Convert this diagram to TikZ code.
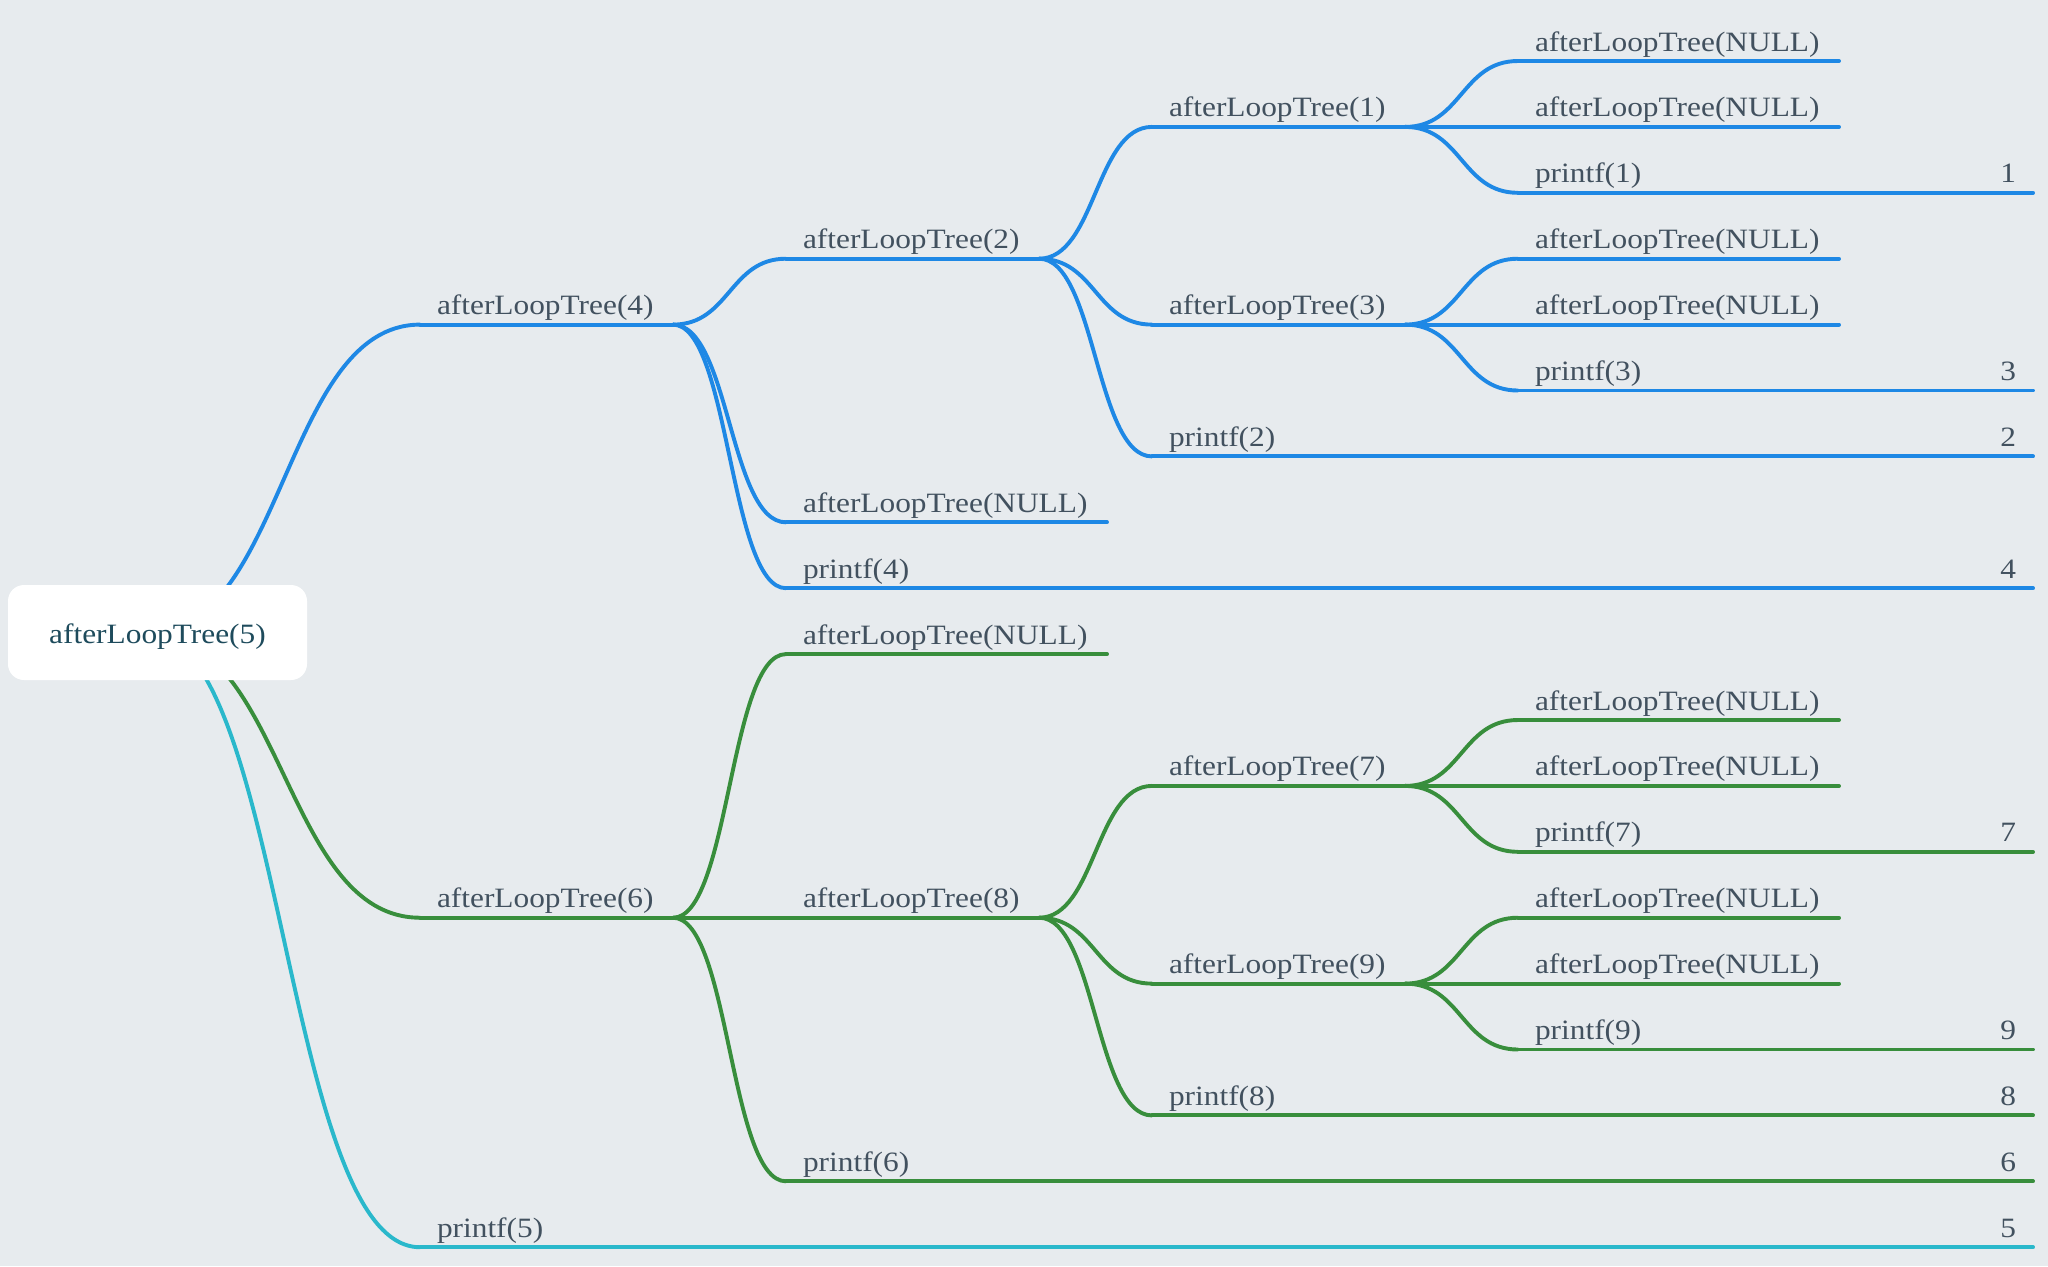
\documentclass[tikz,border=0pt]{standalone}
\usepackage{fontspec}
\setmainfont{Liberation Serif}[FakeStretch=1.12]

\definecolor{bgc}{HTML}{E7EBEE}
\definecolor{bluebr}{HTML}{1E88E5}
\definecolor{greenbr}{HTML}{388E3C}
\definecolor{cyanbr}{HTML}{2AB8CB}
\definecolor{labelc}{HTML}{42515F}
\definecolor{rootc}{HTML}{1E4B5C}

% pushes the printed value to the right end of a printf line
\newcommand\pushright{\hskip 0pt plus 1filll\relax}

\tikzset{
  x=0.5pt, y=-0.5pt,
  lblfont/.style={font=\fontsize{14pt}{16pt}\selectfont},
  topic/.style={anchor=south west, inner xsep=8.5pt, inner ysep=5pt,
    outer sep=0pt, text depth=0pt, text width=#1, align=left,
    lblfont, text=labelc},
  callnode/.style={topic=109.5pt},
  leafnull/.style={topic=143.5pt},
  pr1/.style={topic=789.5pt},
  pr2/.style={topic=606.5pt},
  pr3/.style={topic=423.5pt},
  pr4/.style={topic=240.5pt},
  br/.style={draw=#1, line width=1.95pt, line cap=round},
  link/.style={to path={.. controls +(#1,0) and +(-#1,0) .. (\tikztotarget)}},
  link/.default=56.5,
  rootbox/.style={fill=white, rounded corners=8pt, minimum width=149.5pt,
    minimum height=47.5pt, inner sep=0pt, text height=10.5pt, text depth=0pt,
    lblfont, text=rootc},
}

\begin{document}
\hyphenpenalty=10000
\begin{tikzpicture}
\fill[bgc] (0,0) rectangle (2048,1266);
\useasboundingbox (0,0) rectangle (2048,1266);

% blue branch: afterLoopTree(4)
\node[callnode] (n4) at (420,324.6) {afterLoopTree(4)};
\node[callnode] (n2) at (786,258.7) {afterLoopTree(2)};
\node[leafnull] (x4) at (786,522.3) {afterLoopTree(NULL)};
\node[pr2] (p4) at (786,588.2) {printf(4)\pushright 4};
\node[callnode] (n1) at (1152,126.9) {afterLoopTree(1)};
\node[callnode] (n3) at (1152,324.6) {afterLoopTree(3)};
\node[pr3] (p2) at (1152,456.4) {printf(2)\pushright 2};
\node[leafnull] (x1a) at (1518,61.0) {afterLoopTree(NULL)};
\node[leafnull] (x1b) at (1518,126.9) {afterLoopTree(NULL)};
\node[pr4] (p1) at (1518,192.8) {printf(1)\pushright 1};
\node[leafnull] (x3a) at (1518,258.7) {afterLoopTree(NULL)};
\node[leafnull] (x3b) at (1518,324.6) {afterLoopTree(NULL)};
\node[pr4] (p3) at (1518,390.5) {printf(3)\pushright 3};

% green branch: afterLoopTree(6)
\node[callnode] (n6) at (420,917.7) {afterLoopTree(6)};
\node[leafnull] (x6) at (786,654.1) {afterLoopTree(NULL)};
\node[callnode] (n8) at (786,917.7) {afterLoopTree(8)};
\node[pr2] (p6) at (786,1181.3) {printf(6)\pushright 6};
\node[callnode] (n7) at (1152,785.9) {afterLoopTree(7)};
\node[callnode] (n9) at (1152,983.6) {afterLoopTree(9)};
\node[pr3] (p8) at (1152,1115.4) {printf(8)\pushright 8};
\node[leafnull] (x7a) at (1518,720.0) {afterLoopTree(NULL)};
\node[leafnull] (x7b) at (1518,785.9) {afterLoopTree(NULL)};
\node[pr4] (p7) at (1518,851.8) {printf(7)\pushright 7};
\node[leafnull] (x9a) at (1518,917.7) {afterLoopTree(NULL)};
\node[leafnull] (x9b) at (1518,983.6) {afterLoopTree(NULL)};
\node[pr4] (p9) at (1518,1049.5) {printf(9)\pushright 9};

% cyan branch: printf(5)
\node[pr1] (p5) at (420,1247.2) {printf(5)\pushright 5};

% underlines of every topic
\foreach \n in {n4,n2,x4,p4,n1,n3,p2,x1a,x1b,p1,x3a,x3b,p3}
  \draw[br=bluebr] (\n.south west) -- (\n.south east);
\foreach \n in {n6,x6,n8,p6,n7,n9,p8,x7a,x7b,p7,x9a,x9b,p9}
  \draw[br=greenbr] (\n.south west) -- (\n.south east);
\draw[br=cyanbr] (p5.south west) -- (p5.south east);

% links between parents and children
\foreach \a/\b in {n4/n2,n4/x4,n4/p4,n2/n1,n2/n3,n2/p2,n1/x1a,n1/x1b,n1/p1,n3/x3a,n3/x3b,n3/p3}
  \draw[br=bluebr] (\a.south east) to[link] (\b.south west);
\foreach \a/\b in {n6/x6,n6/n8,n6/p6,n8/n7,n8/n9,n8/p8,n7/x7a,n7/x7b,n7/p7,n9/x9a,n9/x9b,n9/p9}
  \draw[br=greenbr] (\a.south east) to[link] (\b.south west);

% links leaving the root, hidden under its box
\coordinate (rs) at (148,633);
\draw[br=bluebr] (rs) to[link=136] (n4.south west);
\draw[br=greenbr] (rs) to[link=136] (n6.south west);
\draw[br=cyanbr] (rs) to[link=136] (p5.south west);

% root
\node[rootbox] (root) at (157.5,632.5) {afterLoopTree(5)};
\end{tikzpicture}
\end{document}
